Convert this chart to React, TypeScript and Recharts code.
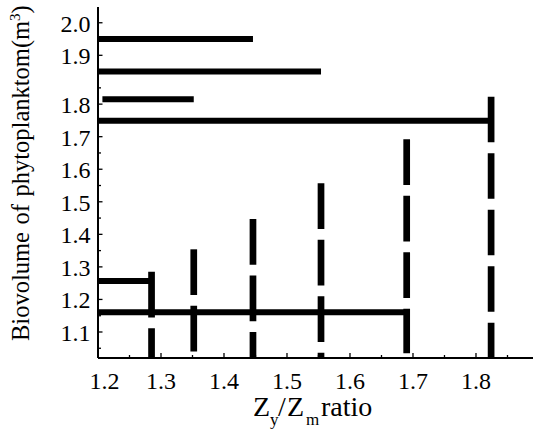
import { ComposedChart, Line, XAxis, YAxis, Label } from "recharts";

const FONT = "Liberation Serif, Times New Roman, DejaVu Serif, serif";

// dashed vertical markers: Zy/Zm ratio, top and bottom biovolume
const ratioValues = [1.285, 1.352, 1.446, 1.554, 1.69, 1.824];
const dashTops = [1.285, 1.354, 1.447, 1.557, 1.692, 1.823];
const dashBottoms = [1.02, 1.04, 1.02, 1.02, 1.035, 1.02];

// solid horizontal bars: biovolume level, start and end ratio
const barLevels = [2.0, 1.9, 1.815, 1.749, 1.257, 1.161];
const barStarts = [1.2, 1.2, 1.207, 1.2, 1.2, 1.2];
const barEnds = [1.446, 1.554, 1.352, 1.824, 1.285, 1.69];

// axis ticks
const xMajorTicks = [1.2, 1.3, 1.4, 1.5, 1.6, 1.7, 1.8];
const xMinorTicks = [1.25, 1.35, 1.45, 1.55, 1.65, 1.75, 1.85];
const xTickLabels = ["1.2", "1.3", "1.4", "1.5", "1.6", "1.7", "1.8"];
const yLabelTicks = [1.1, 1.2, 1.3, 1.4, 1.5, 1.6, 1.7, 1.8, 1.95, 2.05];
const yTickLabels = ["1.1", "1.2", "1.3", "1.4", "1.5", "1.6", "1.7", "1.8", "1.9", "2.0"];
const yMinorTicks = [1.05, 1.15, 1.25, 1.35, 1.45, 1.55, 1.65, 1.75, 1.85];

const xTicks = [...xMajorTicks, ...xMinorTicks].sort((a, b) => a - b);
const yTicks = [...yLabelTicks, ...yMinorTicks].sort((a, b) => a - b);

const textStyle = { fontFamily: FONT, fill: "#000" };

function XTick(props: any) {
  const { x, y, payload } = props;
  const i = xMajorTicks.indexOf(payload.value);
  const len = i >= 0 ? 5 : 3;
  // first label sits a bit right of its tick in the original
  const dx = i === 0 ? 6.5 : 0;
  return (
    <g>
      <line x1={x} x2={x} y1={y} y2={y - len} stroke="#000" strokeWidth={1.3} />
      {i >= 0 && (
        <text x={x + dx} y={y + 31} textAnchor="middle" style={{ ...textStyle, fontSize: 24 }}>
          {xTickLabels[i]}
        </text>
      )}
    </g>
  );
}

function YTick(props: any) {
  const { x, y, payload } = props;
  const i = yLabelTicks.indexOf(payload.value);
  const len = i >= 0 ? 4.5 : 3;
  return (
    <g>
      <line x1={x} x2={x + len} y1={y} y2={y} stroke="#000" strokeWidth={1.3} />
      {i >= 0 && (
        <text x={x - 7.5} y={y + 9} textAnchor="end" style={{ ...textStyle, fontSize: 24 }}>
          {yTickLabels[i]}
        </text>
      )}
    </g>
  );
}

function XTitle(props: any) {
  const vb = props.viewBox || { x: 98, y: 358 };
  const ox = vb.x + 155;
  const oy = vb.y + 58;
  return (
    <text y={oy} style={{ ...textStyle, fontSize: 28 }}>
      <tspan x={ox}>Z</tspan>
      <tspan x={ox + 17} style={{ fontSize: 17 }} dy={9}>y</tspan>
      <tspan x={ox + 25} dy={-9}>/</tspan>
      <tspan x={ox + 34}>Z</tspan>
      <tspan x={ox + 53} style={{ fontSize: 17 }} dy={9}>m</tspan>
      <tspan x={ox + 68} dy={-9}>ratio</tspan>
    </text>
  );
}

function YTitle(props: any) {
  const vb = props.viewBox || { x: 0, y: 7 };
  const bx = vb.x + 29;
  const by = vb.y + 334;
  return (
    <text x={bx} y={by} transform={`rotate(-90 ${bx} ${by})`} style={{ ...textStyle, fontSize: 24.5, wordSpacing: 1.5 }}>
      Biovolume of phytoplanktom(m
      <tspan style={{ fontSize: 15 }} dy={-9}>3</tspan>
      <tspan dy={9}>)</tspan>
    </text>
  );
}

export default function App() {
  return (
    <div style={{ position: "absolute", left: 0, top: 0, background: "#fff" }}>
      <ComposedChart width={533} height={435} margin={{ top: 7, right: 0, bottom: 0, left: 0 }}>
        <XAxis
          type="number"
          dataKey="x"
          domain={[1.2, 1.8905]}
          allowDataOverflow
          ticks={xTicks}
          interval={0}
          tickLine={false}
          tickSize={0}
          tickMargin={0}
          tick={XTick}
          height={77}
          axisLine={{ stroke: "#000", strokeWidth: 2 }}
        >
          <Label content={XTitle} />
        </XAxis>
        <YAxis
          type="number"
          dataKey="y"
          domain={[1.0201, 2.0984]}
          allowDataOverflow
          ticks={yTicks}
          interval={0}
          tickLine={false}
          tickSize={0}
          tickMargin={0}
          tick={YTick}
          width={98}
          axisLine={{ stroke: "#000", strokeWidth: 2 }}
        >
          <Label content={YTitle} />
        </YAxis>

        {barLevels.map((level, i) => (
          <Line
            key={`bar-${i}`}
            data={[
              { x: barStarts[i], y: level },
              { x: barEnds[i], y: level },
            ]}
            dataKey="y"
            stroke="#000"
            strokeWidth={6}
            dot={false}
            activeDot={false}
            isAnimationActive={false}
          />
        ))}

        {ratioValues.map((r, i) => (
          <Line
            key={`dash-${i}`}
            data={[
              { x: r, y: dashTops[i] },
              { x: r, y: dashBottoms[i] },
            ]}
            dataKey="y"
            stroke="#000"
            strokeWidth={6.7}
            strokeDasharray="45.7 10.8"
            dot={false}
            activeDot={false}
            isAnimationActive={false}
          />
        ))}
      </ComposedChart>
    </div>
  );
}
